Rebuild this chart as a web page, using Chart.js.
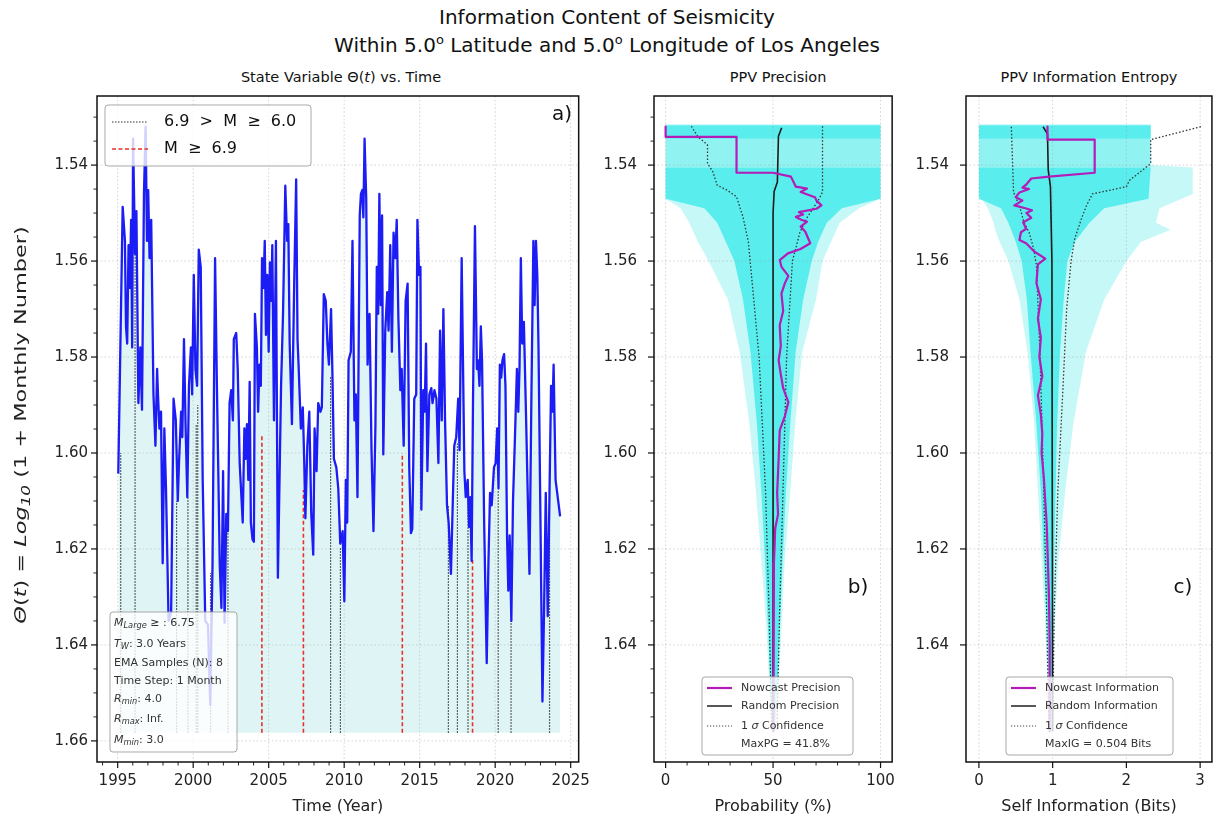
<!DOCTYPE html>
<html>
<head>
<meta charset="utf-8">
<script src="https://cdn.jsdelivr.net/npm/chart.js@4.4.1/dist/chart.umd.min.js"></script>
<style>
  html, body { margin: 0; padding: 0; background: #fff; }
  body { width: 1215px; height: 823px; position: relative; overflow: hidden; font-family: "DejaVu Sans", sans-serif; color: #111; }
  .t { position: absolute; white-space: nowrap; transform: translateX(-50%); line-height: 1.2; }
  .t sup { font-size: 13px; vertical-align: 8px; line-height: 0; }
  canvas { position: absolute; top: 60px; }
</style>
</head>
<body>
<div class="t" style="left:607px; top:5px; font-size:20px;">Information Content of Seismicity</div>
<div class="t" style="left:607px; top:33px; font-size:20px;">Within 5.0<sup>o</sup> Latitude and 5.0<sup>o</sup> Longitude of Los Angeles</div>
<div class="t" style="left:341px; top:69px; font-size:14.5px;">State Variable Θ(<i>t</i>) vs. Time</div>
<div class="t" style="left:778px; top:69px; font-size:14.5px;">PPV Precision</div>
<div class="t" style="left:1089px; top:69px; font-size:14.5px;">PPV Information Entropy</div>

<canvas id="chartA" width="600" height="763" style="left:0px; width:600px; height:763px;"></canvas>
<canvas id="chartB" width="345" height="763" style="left:560px; width:345px; height:763px;"></canvas>
<canvas id="chartC" width="310" height="763" style="left:905px; width:310px; height:763px;"></canvas>

<script>
// ---- panel a: state variable vs time ----
const years = [
  1995.04, 1995.33, 1995.48, 1995.55, 1995.63, 1995.72, 1995.80, 1995.89, 1995.96, 1996.02,
  1996.15, 1996.24, 1996.37, 1996.50, 1996.61, 1996.74, 1996.85, 1996.94, 1997.02, 1997.11,
  1997.22, 1997.37, 1997.50, 1997.61, 1997.67, 1997.76, 1997.87, 1997.98, 1998.09, 1998.20,
  1998.37, 1998.54, 1998.70, 1998.85, 1998.98, 1999.06, 1999.20, 1999.28, 1999.39, 1999.50,
  1999.61, 1999.72, 1999.85, 1999.93, 2000.04, 2000.15, 2000.26, 2000.37, 2000.50, 2000.63,
  2000.80, 2000.98, 2001.13, 2001.28, 2001.45, 2001.58, 2001.65, 2001.76, 2001.87, 2001.98,
  2002.08, 2002.19, 2002.30, 2002.41, 2002.52, 2002.63, 2002.69, 2002.85, 2002.95, 2003.08,
  2003.28, 2003.39, 2003.48, 2003.56, 2003.65, 2003.74, 2003.82, 2003.93, 2004.02, 2004.09,
  2004.22, 2004.30, 2004.39, 2004.48, 2004.56, 2004.65, 2004.74, 2004.82, 2004.91, 2005.00,
  2005.08, 2005.17, 2005.24, 2005.35, 2005.48, 2005.61, 2005.82, 2005.95, 2006.10, 2006.22,
  2006.30, 2006.39, 2006.54, 2006.69, 2006.82, 2006.91, 2006.99, 2007.13, 2007.26, 2007.35,
  2007.43, 2007.56, 2007.69, 2007.82, 2007.95, 2008.04, 2008.17, 2008.28, 2008.43, 2008.52,
  2008.65, 2008.78, 2008.89, 2008.99, 2009.13, 2009.22, 2009.32, 2009.48, 2009.61, 2009.74,
  2009.90, 2010.01, 2010.11, 2010.20, 2010.29, 2010.44, 2010.55, 2010.68, 2010.77, 2010.88,
  2011.03, 2011.11, 2011.20, 2011.27, 2011.35, 2011.46, 2011.55, 2011.68, 2011.81, 2011.94,
  2012.07, 2012.16, 2012.25, 2012.33, 2012.42, 2012.51, 2012.59, 2012.72, 2012.85, 2012.94,
  2013.05, 2013.16, 2013.27, 2013.38, 2013.48, 2013.59, 2013.72, 2013.81, 2013.94, 2014.07,
  2014.20, 2014.31, 2014.42, 2014.51, 2014.64, 2014.77, 2014.85, 2014.96, 2015.05, 2015.11,
  2015.24, 2015.33, 2015.42, 2015.51, 2015.64, 2015.77, 2015.85, 2015.98, 2016.11, 2016.24,
  2016.35, 2016.46, 2016.57, 2016.68, 2016.81, 2016.92, 2017.07, 2017.20, 2017.29, 2017.42,
  2017.55, 2017.64, 2017.78, 2017.96, 2018.05, 2018.18, 2018.27, 2018.35, 2018.44, 2018.53,
  2018.66, 2018.79, 2018.87, 2018.96, 2019.05, 2019.13, 2019.27, 2019.44, 2019.55, 2019.66,
  2019.77, 2019.92, 2020.03, 2020.13, 2020.22, 2020.31, 2020.40, 2020.48, 2020.59, 2020.68,
  2020.79, 2020.87, 2020.96, 2021.07, 2021.18, 2021.31, 2021.44, 2021.53, 2021.61, 2021.70,
  2021.79, 2021.90, 2022.05, 2022.27, 2022.40, 2022.53, 2022.61, 2022.70, 2022.79, 2022.87,
  2023.00, 2023.13, 2023.24, 2023.35, 2023.48, 2023.61, 2023.70, 2023.79, 2023.87, 2024.00,
  2024.30
];
const theta = [
  1.6043, 1.5487, 1.5558, 1.5736, 1.5772, 1.5567, 1.5656, 1.5514, 1.5780, 1.5345,
  1.5585, 1.5496, 1.5896, 1.5780, 1.5910, 1.5460, 1.5320, 1.5558, 1.5452, 1.5594,
  1.5514, 1.5878, 1.5985, 1.5825, 1.5878, 1.5949, 1.5914, 1.6230, 1.5949, 1.6074,
  1.6350, 1.6332, 1.5887, 1.5932, 1.6100, 1.6021, 1.5914, 1.5967, 1.5763, 1.5949,
  1.6092, 1.5860, 1.5780, 1.5878, 1.5629, 1.5825, 1.5860, 1.5576, 1.5612, 1.6056,
  1.6350, 1.6358, 1.6525, 1.6234, 1.5594, 1.5878, 1.6012, 1.6234, 1.6323, 1.6038,
  1.6354, 1.6127, 1.6163, 1.5896, 1.5869, 1.5932, 1.5763, 1.5750, 1.5825, 1.6021,
  1.6145, 1.5949, 1.6012, 1.5940, 1.6056, 1.5852, 1.6145, 1.6180, 1.6185, 1.5710,
  1.5780, 1.5914, 1.5816, 1.5860, 1.5594, 1.5656, 1.5558, 1.5754, 1.5629, 1.5789,
  1.5603, 1.5683, 1.5567, 1.5932, 1.5558, 1.6260, 1.5860, 1.5710, 1.5443, 1.5558,
  1.5523, 1.5772, 1.5940, 1.5647, 1.5430, 1.5763, 1.5825, 1.5949, 1.5905, 1.6012,
  1.6136, 1.5985, 1.5914, 1.6127, 1.6212, 1.5949, 1.6038, 1.5896, 1.5914, 1.5905,
  1.5669, 1.5683, 1.5772, 1.5816, 1.5700, 1.5834, 1.6012, 1.6030, 1.6074, 1.6189,
  1.6163, 1.6309, 1.6056, 1.6145, 1.5807, 1.5789, 1.5558, 1.5932, 1.5878, 1.6092,
  1.5505, 1.5460, 1.5452, 1.5509, 1.5345, 1.5470, 1.5816, 1.5710, 1.5994, 1.6163,
  1.5940, 1.5612, 1.5710, 1.5460, 1.5692, 1.5505, 1.6003, 1.5745, 1.5665, 1.5745,
  1.5567, 1.5789, 1.5541, 1.5594, 1.5514, 1.5718, 1.5869, 1.5825, 1.5985, 1.5683,
  1.5647, 1.6030, 1.6167, 1.6158, 1.5887, 1.5878, 1.5514, 1.5629, 1.5612, 1.6118,
  1.5869, 1.5914, 1.5772, 1.6038, 1.5878, 1.5865, 1.5896, 1.5869, 1.5887, 1.6021,
  1.5745, 1.5932, 1.5700, 1.5932, 1.6109, 1.6145, 1.6252, 1.6092, 1.5985, 1.5967,
  1.5887, 1.5994, 1.5594, 1.6038, 1.6092, 1.6056, 1.6154, 1.6092, 1.6225, 1.5896,
  1.5527, 1.5825, 1.5807, 1.5860, 1.5736, 1.5807, 1.6145, 1.6438, 1.6234, 1.6083,
  1.6109, 1.6030, 1.6021, 1.5949, 1.6074, 1.5816, 1.5843, 1.5807, 1.5794, 1.5860,
  1.6180, 1.6287, 1.6172, 1.6350, 1.6100, 1.5967, 1.5825, 1.5914, 1.5825, 1.5594,
  1.5772, 1.5727, 1.5932, 1.6252, 1.5878, 1.5558, 1.5692, 1.5558, 1.5629, 1.5780,
  1.6145, 1.6518, 1.6323, 1.6083, 1.6340, 1.6056, 1.5860, 1.5914, 1.5816, 1.6056,
  1.6132
];
const thetaFloor = 1.6583;

// earthquakes 6.0 <= M < 6.9 and M >= 6.9
const midQuakeYears = [1995.2, 1996.15, 1998.9, 1999.65, 2000.2, 2000.3, 2001.15, 2002.3,
                       2009.1, 2009.75, 2016.9, 2017.5, 2018.2, 2020.2, 2021.05, 2023.6];
const midQuakeTops  = [1.600, 1.558, 1.610, 1.609, 1.594, 1.590, 1.625, 1.616,
                       1.584, 1.6196, 1.611, 1.598, 1.609, 1.6077, 1.635, 1.616];
const bigQuakeYears = [2004.55, 2007.3, 2013.85, 2018.5];
const bigQuakeTops  = [1.5963, 1.6077, 1.600, 1.6223];

const thetaTicks = [1.54, 1.56, 1.58, 1.60, 1.62, 1.64, 1.66];
const yearTicks = [1995, 2000, 2005, 2010, 2015, 2020, 2025];

// ---- panel b: PPV precision ----
const precOuterTheta = [1.5315, 1.5405, 1.547, 1.549, 1.552, 1.556, 1.56, 1.568, 1.579, 1.594, 1.608, 1.622, 1.636, 1.649, 1.658];
const precOuterLo    = [0, 0, 0, 7, 11, 15, 20, 29, 34.5, 39, 42, 44.5, 46.8, 48.3, 49.5];
const precOuterHi    = [100, 100, 100, 90, 81, 77, 73, 70, 63.5, 60.3, 58, 55.5, 54, 52.6, 51];
const precInnerTheta = [1.5405, 1.547, 1.549, 1.552, 1.556, 1.56, 1.568, 1.579, 1.594, 1.608, 1.622, 1.636, 1.649, 1.658];
const precInnerLo    = [0, 0, 18, 24, 28, 32, 36, 39.5, 42.5, 44.5, 46.2, 47.6, 48.8, 49.7];
const precInnerHi    = [100, 100, 82, 75, 71, 68, 64, 60.5, 58, 56, 54.5, 53.2, 52, 50.6];
const precBandTheta  = [1.5317, 1.5345];
const precBandLo     = [0, 0];
const precBandHi     = [100, 100];
const precGapTheta   = [1.5345, 1.5405];
const precGapLo      = [0, 0];
const precGapHi      = [100, 100];

const precNowTheta = [1.532, 1.5341, 1.5341, 1.5416, 1.5416, 1.5424, 1.5445, 1.5449, 1.5456, 1.5467,
  1.5474, 1.5484, 1.5491, 1.5498, 1.5503, 1.5508, 1.5514, 1.5518, 1.5528, 1.5539,
  1.5563, 1.5575, 1.5584, 1.5598, 1.5612, 1.5631, 1.5646, 1.5668, 1.5704, 1.5734,
  1.5777, 1.5807, 1.5836, 1.5865, 1.5894, 1.5923, 1.5953, 1.6011, 1.6084, 1.6128,
  1.6157, 1.623, 1.6376, 1.658];
const precNow = [0, 0, 33, 33, 50, 58.3, 60.6, 65.8, 62.8, 69.5,
  70.2, 72.5, 70.2, 62, 64, 60.6, 63.1, 65.8, 62.8, 65,
  67.3, 62.8, 56.9, 53.1, 53.9, 57.1, 55.5, 53.9, 54.7, 53.1,
  53.6, 52.6, 53.6, 54.7, 57.1, 55.5, 53.1, 52.6, 51.9, 52.3,
  51, 50.4, 50.2, 50.2];
const precRandTheta = [1.5322, 1.534, 1.5435, 1.5455, 1.55, 1.658];
const precRand      = [54, 52.5, 52, 50.5, 50, 50];
const precLoTheta = [1.5319, 1.5341, 1.5358, 1.5396, 1.5414, 1.5442, 1.5452, 1.5466, 1.5508, 1.556, 1.58, 1.608, 1.634, 1.658];
const precLo      = [12, 15, 19.5, 19.5, 22, 24, 28.5, 33, 36, 38.5, 43.5, 46.5, 48.2, 49.4];
const precHiTheta = [1.5319, 1.5456, 1.5474, 1.5508, 1.554, 1.56, 1.58, 1.61, 1.634, 1.658];
const precHi      = [73, 73, 71, 66, 62.5, 59, 56.3, 54.5, 53, 51.8];
const probTicks = [0, 50, 100];

// ---- panel c: information entropy ----
const infoOuterTheta = [1.5315, 1.5400, 1.5405, 1.546, 1.549, 1.552, 1.5535, 1.556, 1.56, 1.568, 1.579, 1.594, 1.608, 1.622, 1.636, 1.649, 1.658];
const infoOuterLo    = [0, 0, 0, 0, 0.12, 0.2, 0.22, 0.28, 0.4, 0.55, 0.66, 0.75, 0.8, 0.85, 0.9, 0.93, 0.95];
const infoOuterHi    = [2.33, 2.33, 2.9, 2.9, 2.45, 2.4, 2.6, 2.2, 2.0, 1.7, 1.45, 1.28, 1.17, 1.08, 1.03, 1.0, 0.99];
const infoInnerTheta = [1.5405, 1.547, 1.549, 1.552, 1.556, 1.56, 1.568, 1.579, 1.594, 1.608, 1.622, 1.636, 1.649, 1.658];
const infoInnerLo    = [0, 0, 0.3, 0.4, 0.5, 0.58, 0.65, 0.7, 0.78, 0.84, 0.88, 0.92, 0.95, 0.97];
const infoInnerHi    = [2.33, 2.3, 1.7, 1.5, 1.3, 1.2, 1.15, 1.1, 1.06, 1.04, 1.02, 1.01, 1.0, 0.99];
const infoBandTheta  = [1.5317, 1.5345];
const infoBandLo     = [0, 0];
const infoBandHi     = [2.33, 2.33];
const infoGapTheta   = [1.5345, 1.5405];
const infoGapLo      = [0, 0];
const infoGapHi      = [2.33, 2.33];

const infoNowTheta = [1.532, 1.5347, 1.5347, 1.5416, 1.5424, 1.5428, 1.544, 1.5447, 1.545, 1.5457,
  1.5467, 1.5474, 1.5484, 1.549, 1.5494, 1.55, 1.551, 1.5519, 1.5533, 1.554,
  1.5556, 1.5563, 1.558, 1.5595, 1.5607, 1.5646, 1.568, 1.572, 1.576, 1.58,
  1.584, 1.588, 1.592, 1.596, 1.60, 1.605, 1.61, 1.615, 1.62, 1.63,
  1.64, 1.658];
const infoNow = [0.93, 0.93, 1.57, 1.57, 0.95, 0.71, 0.645, 0.59, 0.68, 0.55,
  0.5, 0.59, 0.48, 0.63, 0.72, 0.645, 0.71, 0.6, 0.64, 0.57,
  0.55, 0.64, 0.75, 0.9, 0.8, 0.78, 0.84, 0.8, 0.84, 0.82,
  0.86, 0.8, 0.84, 0.86, 0.85, 0.88, 0.9, 0.92, 0.93, 0.95,
  0.96, 0.96];
const infoRandTheta = [1.532, 1.5335, 1.541, 1.5445, 1.56, 1.658];
const infoRand      = [0.87, 0.93, 0.94, 0.97, 0.99, 1.0];
const infoLoTheta = [1.532, 1.5457, 1.5485, 1.5519, 1.554, 1.5573, 1.5608, 1.58, 1.608, 1.634, 1.658];
const infoLo      = [0.44, 0.47, 0.55, 0.61, 0.68, 0.74, 0.78, 0.83, 0.88, 0.92, 0.95];
const infoHiTheta = [1.532, 1.5347, 1.5397, 1.5432, 1.5445, 1.546, 1.5484, 1.5512, 1.5553, 1.56, 1.57, 1.5865, 1.608, 1.634, 1.658];
const infoHi      = [3.01, 2.33, 2.33, 2.04, 2.0, 1.54, 1.46, 1.39, 1.30, 1.25, 1.19, 1.14, 1.07, 1.02, 1.0];
const bitTicks = [0, 1, 2, 3];
const thetaTicksBC = [1.54, 1.56, 1.58, 1.60, 1.62, 1.64];

const FONT = '"DejaVu Sans"';
const TXT = '#222';
const CYAN_LIGHT = 'rgba(120, 238, 238, 0.42)';
const CYAN_MID = 'rgba(80, 232, 232, 0.45)';
const CYAN_DENSE = 'rgba(75, 236, 236, 0.88)';
const MAGENTA = '#b31cb8';

const pts = (xs, ys) => xs.map((v, i) => ({ x: v, y: ys[i] }));
// vertical profiles: value on x, theta on y
const prof = (ths, vals) => ths.map((t, i) => ({ x: vals[i], y: t }));
const polygon = (ths, lo, hi) => prof(ths, lo).concat(prof(ths, hi).reverse());

function line(data, color, width, dash, order, extra) {
  return Object.assign({ data, showLine: true, borderColor: color, borderWidth: width,
    borderDash: dash || [], pointRadius: 0, fill: false, order, borderJoinStyle: 'round' }, extra || {});
}
function shape(data, color, order) {
  return { data, showLine: true, borderWidth: 0, borderColor: 'rgba(0,0,0,0)', backgroundColor: color,
    pointRadius: 0, fill: 'shape', order };
}

function yAxis(width, pad, ticks) {
  return {
    type: 'linear', reverse: true, min: 1.5256, max: 1.6644,
    grid: { display: false, drawTicks: false }, border: { display: false },
    afterBuildTicks: s => { s.ticks = ticks.map(v => ({ value: v })); },
    afterFit: s => { s.width = width; },
    ticks: { autoSkip: false, padding: pad, color: TXT, font: { size: 15, family: FONT },
      callback: v => Number(v).toFixed(2) }
  };
}
function xAxis(min, max, ticks, title) {
  return {
    type: 'linear', min, max,
    grid: { display: false, drawTicks: false }, border: { display: false },
    afterBuildTicks: s => { s.ticks = ticks.map(v => ({ value: v })); },
    afterFit: s => { s.height = 61; },
    ticks: { autoSkip: false, maxRotation: 0, padding: 10, color: TXT, font: { size: 15, family: FONT },
      callback: v => String(v) },
    title: { display: true, text: title, color: TXT, font: { size: 16, family: FONT }, padding: { top: 0, bottom: 7 } }
  };
}

function range(a, b, step) {
  const out = [];
  for (let v = a; v <= b + 1e-9; v += step) out.push(Math.round(v * 1000) / 1000);
  return out;
}

function partsWidth(ctx, parts, size) {
  let w = 0;
  parts.forEach(([txt, st]) => {
    const fs = st === 's' ? size * 0.75 : size;
    ctx.font = (st === 'n' ? '' : 'italic ') + fs + 'px ' + FONT;
    w += ctx.measureText(txt).width;
  });
  return w;
}
function richText(ctx, x, y, parts, size) {
  parts.forEach(([txt, st]) => {
    const sub = st === 's';
    const fs = sub ? size * 0.75 : size;
    ctx.font = (st === 'n' ? '' : 'italic ') + fs + 'px ' + FONT;
    ctx.fillText(txt, x, sub ? y + size * 0.3 : y);
    x += ctx.measureText(txt).width;
  });
}

function box(ctx, x, y, w, h) {
  ctx.save();
  ctx.fillStyle = 'rgba(255,255,255,0.8)';
  ctx.strokeStyle = 'rgba(160,160,160,0.9)';
  ctx.lineWidth = 1;
  ctx.beginPath();
  ctx.roundRect(x, y, w, h, 3);
  ctx.fill();
  ctx.stroke();
  ctx.restore();
}

function decor(cfg) {
  return {
    id: 'decor' + cfg.name,
    beforeDatasetsDraw(chart) {
      const { ctx, chartArea: a, scales: { x, y } } = chart;
      ctx.save();
      ctx.strokeStyle = 'rgba(150,150,150,0.5)';
      ctx.lineWidth = 0.8;
      ctx.setLineDash([1.6, 2.2]);
      cfg.gridX.forEach(v => {
        const p = x.getPixelForValue(v);
        ctx.beginPath(); ctx.moveTo(p, a.top); ctx.lineTo(p, a.bottom); ctx.stroke();
      });
      cfg.gridY.forEach(v => {
        const p = y.getPixelForValue(v);
        ctx.beginPath(); ctx.moveTo(a.left, p); ctx.lineTo(a.right, p); ctx.stroke();
      });
      ctx.restore();
    },
    afterDraw(chart) {
      const { ctx, chartArea: a, scales: { x, y } } = chart;
      ctx.save();
      ctx.strokeStyle = '#111';
      const tx = (vals, len, w) => {
        ctx.lineWidth = w;
        vals.forEach(v => {
          const p = x.getPixelForValue(v);
          if (p < a.left - 0.5 || p > a.right + 0.5) return;
          ctx.beginPath(); ctx.moveTo(p, a.bottom); ctx.lineTo(p, a.bottom + len); ctx.stroke();
        });
      };
      const ty = (vals, len, w) => {
        ctx.lineWidth = w;
        vals.forEach(v => {
          const p = y.getPixelForValue(v);
          if (p < a.top - 0.5 || p > a.bottom + 0.5) return;
          ctx.beginPath(); ctx.moveTo(a.left - len, p); ctx.lineTo(a.left, p); ctx.stroke();
        });
      };
      tx(cfg.gridX, 6, 1.2);
      tx(cfg.minorX, 3.5, 0.9);
      ty(cfg.gridY, 6, 1.2);
      ty(cfg.minorY, 3.5, 0.9);
      ctx.lineWidth = 1.5;
      ctx.strokeRect(a.left, a.top, a.right - a.left, a.bottom - a.top);
      ctx.restore();
      ctx.save();
      ctx.textBaseline = 'middle';
      ctx.fillStyle = '#111';
      cfg.extra(ctx, chart);
      ctx.restore();
    }
  };
}

function legendRows(ctx, x0, rows, fs) {
  rows.forEach(r => {
    if (r.color) {
      ctx.save();
      ctx.strokeStyle = r.color; ctx.lineWidth = r.width; ctx.setLineDash(r.dash || []);
      ctx.beginPath(); ctx.moveTo(x0, r.y); ctx.lineTo(x0 + r.len, r.y); ctx.stroke();
      ctx.restore();
    }
    richText(ctx, r.tx, r.y, r.parts, fs);
  });
}

const common = {
  responsive: false, animation: false, events: [],
  plugins: { legend: { display: false }, tooltip: { enabled: false }, filler: { drawTime: 'beforeDatasetsDraw' } }
};

// ---------- chart a ----------
const quakeSets = [];
midQuakeYears.forEach((yr, i) => quakeSets.push(line([{ x: yr, y: thetaFloor }, { x: yr, y: midQuakeTops[i] }], '#333', 1.2, [1.5, 1.5], 2)));
bigQuakeYears.forEach((yr, i) => quakeSets.push(line([{ x: yr, y: thetaFloor }, { x: yr, y: bigQuakeTops[i] }], '#e8302a', 1.6, [4, 2.5], 1)));

new Chart(document.getElementById('chartA'), {
  type: 'scatter',
  data: {
    datasets: [
      line(pts(years, theta), 'rgb(28,28,245)', 2.3, null, 0,
        { fill: { value: thetaFloor }, backgroundColor: 'rgba(175,230,230,0.4)' }),
      ...quakeSets
    ]
  },
  options: Object.assign({}, common, {
    layout: { padding: { left: 0, top: 36, right: 14, bottom: 0 } },
    scales: {
      x: xAxis(1993.63, 2025.53, yearTicks, 'Time (Year)'),
      y: yAxis(97, 9, thetaTicks)
    }
  }),
  plugins: [decor({
    name: 'a', gridX: yearTicks, gridY: thetaTicks,
    minorX: range(1994, 2025, 1).filter(v => v % 5 !== 0),
    minorY: range(1.53, 1.66, 0.005).filter(v => Math.abs(v * 50 - Math.round(v * 50)) > 1e-6),
    extra(ctx) {
      // y axis title (stretched along its length like the reference)
      const yt = [['Θ', 'i'], ['(', 'n'], ['t', 'i'], [') = ', 'n'], ['Log', 'i'], ['10', 's'], [' (1 + Monthly Number)', 'n']];
      ctx.save();
      ctx.fillStyle = TXT;
      ctx.translate(22, 365);
      ctx.rotate(-Math.PI / 2);
      ctx.scale(1.4, 1);
      richText(ctx, -partsWidth(ctx, yt, 16) / 2, 0, yt, 16);
      ctx.restore();
      // legend
      box(ctx, 105, 45, 206, 61);
      legendRows(ctx, 112, [
        { y: 62, color: '#333', width: 1.2, dash: [1.5, 1.5], len: 36, tx: 164, parts: [['6.9  >  M  ≥  6.0', 'n']] },
        { y: 89, color: '#e8302a', width: 1.6, dash: [4, 2.5], len: 36, tx: 164, parts: [['M  ≥  6.9', 'n']] }
      ], 16);
      // parameter box
      box(ctx, 110, 552, 127, 140);
      const lines = [
        [['M', 'i'], ['Large', 's'], [' ≥ : 6.75', 'n']],
        [['T', 'i'], ['W', 's'], [': 3.0 Years', 'n']],
        [['EMA Samples (N): 8', 'n']],
        [['Time Step: 1 Month', 'n']],
        [['R', 'i'], ['min', 's'], [': 4.0', 'n']],
        [['R', 'i'], ['max', 's'], [': Inf.', 'n']],
        [['M', 'i'], ['min', 's'], [': 3.0', 'n']]
      ];
      const ys = [563, 584, 603, 621, 639, 659, 680];
      ctx.fillStyle = '#333';
      lines.forEach((l, i) => richText(ctx, 114, ys[i], l, 11));
      ctx.fillStyle = '#111';
      ctx.font = '20px ' + FONT;
      ctx.textAlign = 'center';
      ctx.fillText('a)', 562, 55);
    }
  })]
});

// ---------- chart b ----------
new Chart(document.getElementById('chartB'), {
  type: 'scatter',
  data: {
    datasets: [
      shape(polygon(precOuterTheta, precOuterLo, precOuterHi), CYAN_LIGHT, 8),
      shape(polygon(precGapTheta, precGapLo, precGapHi), CYAN_MID, 7),
      shape(polygon(precInnerTheta, precInnerLo, precInnerHi), CYAN_DENSE, 6),
      shape(polygon(precBandTheta, precBandLo, precBandHi), CYAN_DENSE, 5),
      line(prof(precLoTheta, precLo), '#333', 1.3, [1.5, 2], 3),
      line(prof(precHiTheta, precHi), '#333', 1.3, [1.5, 2], 3),
      line(prof(precRandTheta, precRand), '#1a1a1a', 1.6, null, 1),
      line(prof(precNowTheta, precNow), MAGENTA, 2.2, null, 0)
    ]
  },
  options: Object.assign({}, common, {
    layout: { padding: { left: 0, top: 36, right: 3, bottom: 0 } },
    scales: {
      x: xAxis(-5.4, 105.4, probTicks, 'Probability (%)'),
      y: yAxis(94, 17, thetaTicksBC)
    }
  }),
  plugins: [decor({
    name: 'b', gridX: probTicks, gridY: thetaTicksBC,
    minorX: [10, 20, 30, 40, 60, 70, 80, 90],
    minorY: range(1.53, 1.655, 0.005).filter(v => Math.abs(v * 50 - Math.round(v * 50)) > 1e-6),
    extra(ctx) {
      box(ctx, 142, 617, 151, 78);
      ctx.fillStyle = '#333';
      legendRows(ctx, 147, [
        { y: 628, color: MAGENTA, width: 2.2, len: 25, tx: 181, parts: [['Nowcast Precision', 'n']] },
        { y: 646, color: '#444', width: 1.8, len: 25, tx: 181, parts: [['Random Precision', 'n']] },
        { y: 666, color: '#444', width: 1.2, dash: [1.2, 1.8], len: 25, tx: 181, parts: [['1 ', 'n'], ['σ', 'i'], [' Confidence', 'n']] },
        { y: 684, tx: 181, parts: [['MaxPG = 41.8%', 'n']] }
      ], 11);
      ctx.fillStyle = '#111';
      ctx.font = '20px ' + FONT;
      ctx.textAlign = 'center';
      ctx.fillText('b)', 298, 528);
    }
  })]
});

// ---------- chart c ----------
new Chart(document.getElementById('chartC'), {
  type: 'scatter',
  data: {
    datasets: [
      shape(polygon(infoOuterTheta, infoOuterLo, infoOuterHi), CYAN_LIGHT, 8),
      shape(polygon(infoGapTheta, infoGapLo, infoGapHi), CYAN_MID, 7),
      shape(polygon(infoInnerTheta, infoInnerLo, infoInnerHi), CYAN_DENSE, 6),
      shape(polygon(infoBandTheta, infoBandLo, infoBandHi), CYAN_DENSE, 5),
      line(prof(infoLoTheta, infoLo), '#333', 1.3, [1.5, 2], 3),
      line(prof(infoHiTheta, infoHi), '#333', 1.3, [1.5, 2], 3),
      line(prof(infoRandTheta, infoRand), '#1a1a1a', 1.6, null, 1),
      line(prof(infoNowTheta, infoNow), MAGENTA, 2.2, null, 0)
    ]
  },
  options: Object.assign({}, common, {
    layout: { padding: { left: 0, top: 36, right: 2, bottom: 0 } },
    scales: {
      x: xAxis(-0.175, 3.16, bitTicks, 'Self Information (Bits)'),
      y: yAxis(61, 17, thetaTicksBC)
    }
  }),
  plugins: [decor({
    name: 'c', gridX: bitTicks, gridY: thetaTicksBC,
    minorX: [], minorY: [],
    extra(ctx) {
      box(ctx, 101, 617, 167, 78);
      ctx.fillStyle = '#333';
      legendRows(ctx, 106, [
        { y: 628, color: MAGENTA, width: 2.2, len: 25, tx: 140, parts: [['Nowcast Information', 'n']] },
        { y: 646, color: '#444', width: 1.8, len: 25, tx: 140, parts: [['Random Information', 'n']] },
        { y: 666, color: '#444', width: 1.2, dash: [1.2, 1.8], len: 25, tx: 140, parts: [['1 ', 'n'], ['σ', 'i'], [' Confidence', 'n']] },
        { y: 684, tx: 140, parts: [['MaxIG = 0.504 Bits', 'n']] }
      ], 11);
      ctx.fillStyle = '#111';
      ctx.font = '20px ' + FONT;
      ctx.textAlign = 'center';
      ctx.fillText('c)', 278, 528);
    }
  })]
});
</script>
</body>
</html>
